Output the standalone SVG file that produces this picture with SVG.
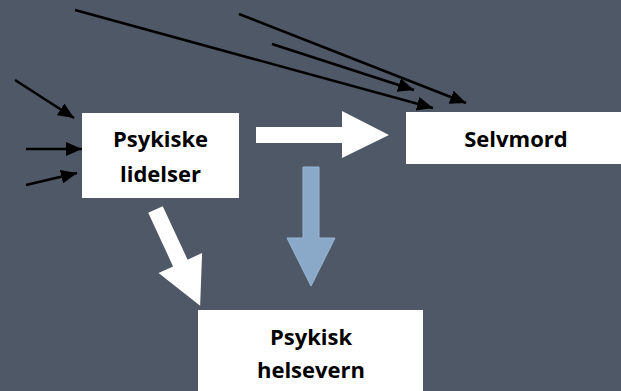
<svg xmlns="http://www.w3.org/2000/svg" width="621" height="391" viewBox="0 0 621 391">
  <defs>
    <marker id="head" markerUnits="userSpaceOnUse" markerWidth="17" markerHeight="14" refX="16" refY="7" orient="auto">
      <path d="M0,0 L16,7 L0,14 Z" fill="#000"/>
    </marker>
    <style>
      .box { fill: #ffffff; }
      .label { font-family: "Open Sans", "Liberation Sans", sans-serif; font-weight: bold; font-size: 22px; fill: #000; text-anchor: middle; }
      .link { stroke: #000; stroke-width: 2.6; fill: none; marker-end: url(#head); }
      .flow { fill: #ffffff; }
      .care { fill: #8aa8c8; stroke: #9bb6d2; stroke-width: 1; }
    </style>
  </defs>

  <rect x="0" y="0" width="621" height="391" fill="#4f5866"/>

  <g id="connectors">
    <line class="link" x1="15" y1="80" x2="74" y2="118"/>
    <line class="link" x1="26" y1="149" x2="82" y2="149"/>
    <line class="link" x1="26" y1="185" x2="77" y2="173"/>
    <line class="link" x1="75" y1="10" x2="433" y2="108"/>
    <line class="link" x1="272" y1="44" x2="414" y2="90"/>
    <line class="link" x1="239" y1="14" x2="466" y2="103"/>
    <!-- block arrows -->
    <polygon class="flow" points="256,127 342,127 342,111 389,135 342,158 342,143 256,143"/>
    <polygon class="flow" transform="translate(155.5,209.5) rotate(65.1)" points="0,-8 59,-8 59,-24 106,0 59,24 59,8 0,8"/>
    <polygon class="care" points="303,167 319,167 319,238 335,238 311,286 287,238 303,238"/>
  </g>

  <g id="psykiske-lidelser">
    <rect class="box" x="82" y="113" width="157" height="85"/>
    <text class="label" x="160.5" y="147">Psykiske</text>
    <text class="label" x="160.5" y="182">lidelser</text>
  </g>

  <g id="selvmord">
    <rect class="box" x="406" y="112" width="220" height="52"/>
    <text class="label" x="516" y="147">Selvmord</text>
  </g>

  <g id="psykisk-helsevern">
    <rect class="box" x="198" y="310" width="225" height="85"/>
    <text class="label" x="311" y="345">Psykisk</text>
    <text class="label" x="311" y="378">helsevern</text>
  </g>
</svg>
